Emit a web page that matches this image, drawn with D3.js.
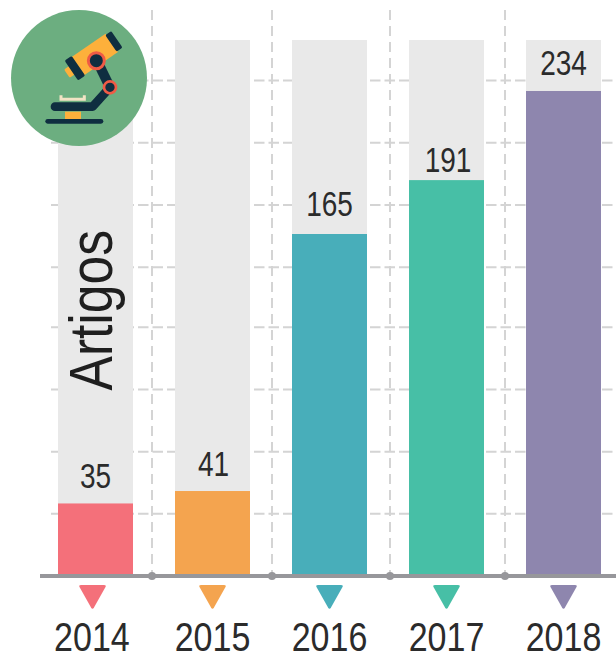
<!DOCTYPE html>
<html><head><meta charset="utf-8">
<script src="https://cdn.jsdelivr.net/npm/d3@7"></script>
<style>html,body{margin:0;padding:0;background:#fff}svg{display:block}</style></head>
<body><svg id="c" width="616" height="657"></svg>
<script>
const years = ["2014","2015","2016","2017","2018"];
const values = [35,41,165,191,234];
const colors = ["#f4707a","#f4a44f","#48aeba","#47bfa6","#8e86ae"];
const gridValues = [30,60,90,120,149,179,209,239];
const maxValue = 258.6;
const yTitle = "Artigos";

const svg = d3.select("#c");
const x = d3.scaleBand().domain(years).range([58,601]).paddingInner(42/117).paddingOuter(0);
const y = d3.scaleLinear().domain([0,maxValue]).range([576,40]);
const sep = d3.scaleOrdinal().domain(years.slice(1)).range([152,272,390,505]);
const font = "'Liberation Sans',sans-serif";
const labelLift = [15,15,18,8,16];
const labelNudge = [0,1,0,1.5,0];
const markerShift = [-3,0,0,0,0];
const cx = d => x(d)+x.bandwidth()/2;

// grid
svg.append("g").selectAll("line").data(gridValues).join("line")
  .attr("x1",51).attr("x2",616).attr("y1",d=>y(d)).attr("y2",d=>y(d))
  .attr("stroke","#d4d4d4").attr("stroke-width",2).attr("stroke-dasharray","10.5 4");
svg.append("g").selectAll("line").data(years.slice(1)).join("line")
  .attr("x1",d=>sep(d)).attr("x2",d=>sep(d)).attr("y1",10).attr("y2",576)
  .attr("stroke","#d4d4d4").attr("stroke-width",2).attr("stroke-dasharray","10 6");

// bars
svg.append("g").selectAll("rect").data(years).join("rect")
  .attr("x",d=>x(d)).attr("width",x.bandwidth()).attr("y",y(maxValue)).attr("height",y(0)-y(maxValue)).attr("fill","#e9e9e9");
svg.append("g").selectAll("rect").data(years).join("rect")
  .attr("x",d=>x(d)).attr("width",x.bandwidth())
  .attr("y",(d,i)=>y(values[i])).attr("height",(d,i)=>y(0)-y(values[i])).attr("fill",(d,i)=>colors[i]);

// axis
svg.append("line").attr("x1",40).attr("x2",616).attr("y1",576).attr("y2",576).attr("stroke","#97979b").attr("stroke-width",4);
svg.append("g").selectAll("circle").data(years.slice(1)).join("circle")
  .attr("cx",d=>sep(d)).attr("cy",576).attr("r",4).attr("fill","#97979b");

// value labels
svg.append("g").selectAll("text").data(years).join("text")
  .attr("transform",(d,i)=>`translate(${cx(d)+labelNudge[i]},${y(values[i])-labelLift[i]}) scale(0.8,1)`)
  .attr("text-anchor","middle").attr("font-family",font).attr("font-size",35).attr("fill","#2b2b2b")
  .text((d,i)=>values[i]);

// markers
const tri = "M-11.5,0 L11.5,0 Q14,0 13,2 L1.5,22.5 Q0,25 -1.5,22.5 L-13,2 Q-14,0 -11.5,0Z";
svg.append("g").selectAll("path").data(years).join("path")
  .attr("d",tri).attr("transform",(d,i)=>`translate(${cx(d)+markerShift[i]},585)`).attr("fill",(d,i)=>colors[i]);
svg.append("g").selectAll("text").data(years).join("text")
  .attr("transform",(d,i)=>`translate(${cx(d)+markerShift[i]*1.2},650.5) scale(0.83,1)`)
  .attr("text-anchor","middle").attr("font-family",font).attr("font-size",41).attr("fill","#2b2b2b")
  .text(d=>d);

// title
svg.append("text").attr("transform","translate(111.5,390.5) rotate(-90) scale(0.845,1)")
  .attr("font-family",font).attr("font-size",61).attr("fill","#1f1f1f").text(yTitle);

// icon
svg.append("circle").attr("cx",79).attr("cy",78).attr("r",68).attr("fill","#6cae80");
const ic = svg.append("g").attr("transform","scale(0.3333)");
const dark = "#0f2e40", org = "#fdb03b", red = "#ef5b45";
ic.append("rect").attr("x",195).attr("y",335).attr("width",48).attr("height",24).attr("fill",org);
ic.append("path").attr("d","M183,302V286M183,298H253M253,302V286").attr("stroke","#f1e3c4").attr("stroke-width",9).attr("fill","none");
ic.append("path").attr("d","M165,320H278L330,262").attr("stroke",dark).attr("stroke-width",26).attr("fill","none").attr("stroke-linecap","round").attr("stroke-linejoin","round");
ic.append("path").attr("d","M143,364H303").attr("stroke",dark).attr("stroke-width",14).attr("stroke-linecap","round");
ic.append("path").attr("d","M295,190L330,262").attr("stroke",dark).attr("stroke-width",30);
const tube = ic.append("g").attr("transform","translate(275,170) rotate(-34.5)");
tube.append("rect").attr("x",-90).attr("y",-15).attr("width",24).attr("height",30).attr("rx",4).attr("fill",org);
tube.append("rect").attr("x",-62).attr("y",-33).attr("width",135).attr("height",66).attr("fill",org);
tube.append("rect").attr("x",-74).attr("y",-36).attr("width",26).attr("height",72).attr("rx",5).attr("fill",dark);
tube.append("rect").attr("x",70).attr("y",-30).attr("width",22).attr("height",60).attr("rx",5).attr("fill",dark);
ic.append("circle").attr("cx",289).attr("cy",182).attr("r",24).attr("fill",dark).attr("stroke",red).attr("stroke-width",9);
ic.append("circle").attr("cx",330).attr("cy",262).attr("r",18).attr("fill",dark).attr("stroke",red).attr("stroke-width",8);
</script></body></html>
